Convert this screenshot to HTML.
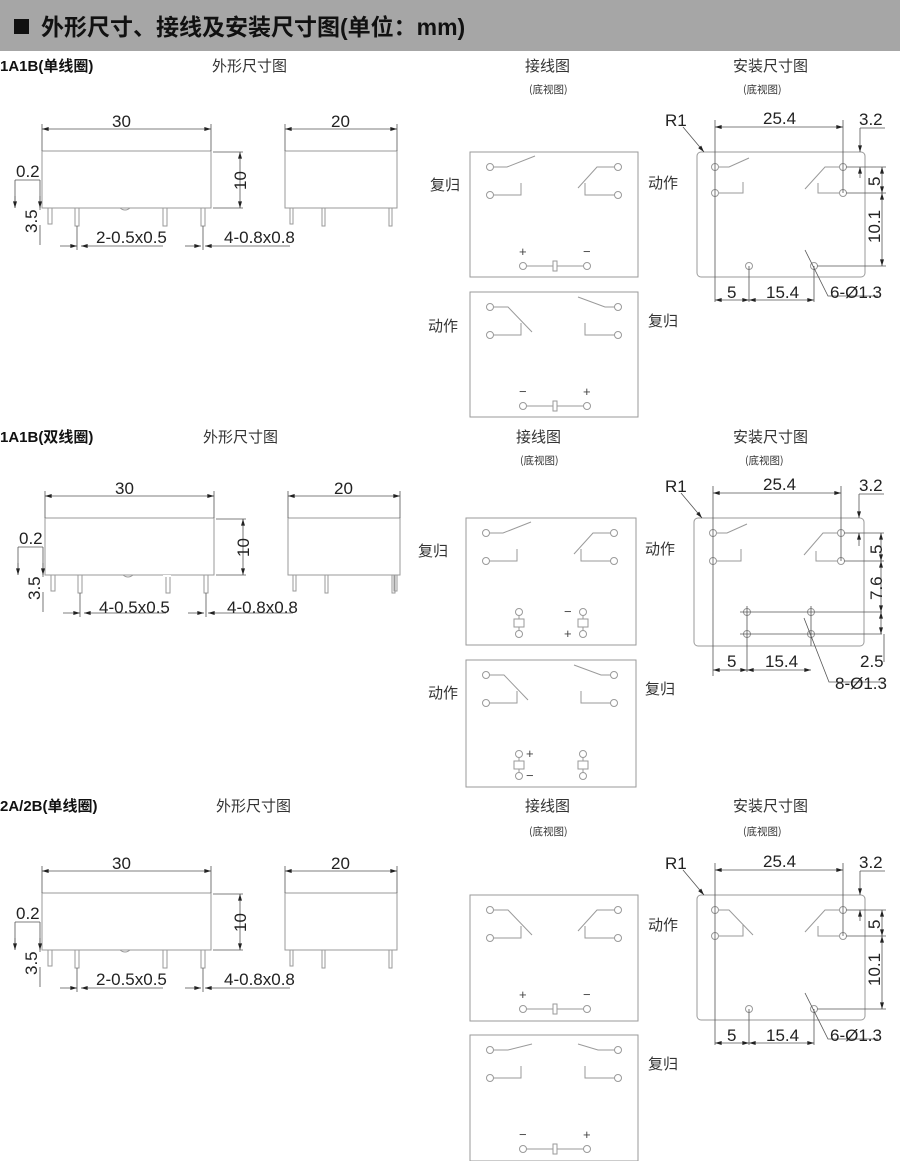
<!DOCTYPE html>
<html><head><meta charset="utf-8"><style>
html,body{margin:0;padding:0;background:#fff;width:900px;height:1161px;overflow:hidden}
svg{display:block}
text{font-family:"Liberation Sans","Noto Sans CJK SC",sans-serif;fill:#222}
.t{font-size:17px}
.cj{font-size:15px;font-family:"Noto Sans CJK SC","WenQuanYi Zen Hei",sans-serif;fill:#333}
.sm{font-size:10.5px;font-family:"Noto Sans CJK SC",sans-serif;fill:#333}
.b{font-size:15px;font-weight:bold;fill:#111}
.g{stroke:#9a9a9a;stroke-width:1;fill:none}
.d{stroke:#555;stroke-width:0.8;fill:none}
.c{stroke:#9a9a9a;stroke-width:1;fill:#fff}
</style></head><body>
<svg width="900" height="1161" viewBox="0 0 900 1161" xmlns="http://www.w3.org/2000/svg">
<defs>
<marker id="a" viewBox="0 0 10 6" refX="10" refY="3" markerWidth="9" markerHeight="4" orient="auto-start-reverse" markerUnits="userSpaceOnUse"><path d="M0,0L10,3L0,6z" fill="#222"/></marker>

<g id="front">
<rect x="42" y="151" width="169" height="57" class="g"/>
<path class="g" d="M48,208v16h4v-16M75,208v18h4v-18M163,208v18h4v-18M201,208v18h4v-18M120,208q5,4 10,0"/>
<path class="d" d="M42,151v-27M211,151v-27"/>
<line x1="42" y1="129" x2="211" y2="129" class="d" marker-start="url(#a)" marker-end="url(#a)"/>
<path class="d" d="M213,152h30M213,208h30"/>
<line x1="240" y1="152" x2="240" y2="208" class="d" marker-start="url(#a)" marker-end="url(#a)"/>
<path class="d" d="M15,180v27M40,180v30M40,225v20M15,180h25"/>
<line x1="15" y1="196" x2="15" y2="208" class="d" marker-end="url(#a)"/>
<line x1="40" y1="196" x2="40" y2="208" class="d" marker-end="url(#a)"/>
<path class="d" d="M77,226v24M203,226v24"/>
<line x1="60" y1="246" x2="77" y2="246" class="d" marker-end="url(#a)"/>
<line x1="98" y1="246" x2="81" y2="246" class="d" marker-end="url(#a)"/>
<line x1="185" y1="246" x2="201" y2="246" class="d" marker-end="url(#a)"/>
<line x1="225" y1="246" x2="205" y2="246" class="d" marker-end="url(#a)"/>
<path class="d" d="M98,246h65M225,246h65"/>
<rect x="285" y="151" width="112" height="57" class="g"/>
<path class="g" d="M290,208v16h3v-16M322,208v18h3v-18M389,208v18h3v-18"/>
<path class="d" d="M285,151v-27M397,151v-27"/>
<line x1="285" y1="129" x2="397" y2="129" class="d" marker-start="url(#a)" marker-end="url(#a)"/>
</g>

<g id="lopen"><path class="g" d="M23,15h14l28,-11M23,43h28v-12"/></g>
<g id="lclosed"><path class="g" d="M23,15h15l24,25M23,43h28v-12"/></g>
<g id="ropen"><path class="g" d="M145,15h-10l-27,-10M145,43h-30v-12"/></g>
<g id="rclosed"><path class="g" d="M145,15h-18l-19,21M145,43h-30v-12"/></g>
<g id="circ4"><circle cx="20" cy="15" r="3.5" class="c"/><circle cx="20" cy="43" r="3.5" class="c"/><circle cx="148" cy="15" r="3.5" class="c"/><circle cx="148" cy="43" r="3.5" class="c"/></g>
<g id="coilh"><path class="g" d="M56,114h27M87,114h27"/><rect x="83" y="109" width="4" height="10" class="g"/><circle cx="53" cy="114" r="3.5" class="c"/><circle cx="117" cy="114" r="3.5" class="c"/></g>

<g id="mdims">
<path class="d" d="M18,-32v182M146,-32v73M52,114v36M117,114v36M149,15h40M149,41h40M120,114h69M163,-24h25"/>
<line x1="18" y1="-25" x2="146" y2="-25" class="d" marker-start="url(#a)" marker-end="url(#a)"/>
<line x1="163" y1="-24" x2="163" y2="0" class="d" marker-end="url(#a)"/>
<line x1="163" y1="26" x2="163" y2="15" class="d" marker-end="url(#a)"/>
<line x1="185" y1="15" x2="185" y2="41" class="d" marker-start="url(#a)" marker-end="url(#a)"/>
<line x1="185" y1="41" x2="185" y2="114" class="d" marker-start="url(#a)" marker-end="url(#a)"/>
<line x1="18" y1="148" x2="52" y2="148" class="d" marker-start="url(#a)" marker-end="url(#a)"/>
<line x1="52" y1="148" x2="117" y2="148" class="d" marker-start="url(#a)" marker-end="url(#a)"/>
<path class="d" d="M108,98l23,46h50"/>
<line x1="-14" y1="-25" x2="7" y2="0" class="d" marker-end="url(#a)"/>
</g>
<g id="mbase">
<rect x="0" y="0" width="168" height="125" rx="4" class="g"/>
<circle cx="18" cy="15" r="3.5" class="c"/><circle cx="18" cy="41" r="3.5" class="c"/><circle cx="146" cy="15" r="3.5" class="c"/><circle cx="146" cy="41" r="3.5" class="c"/>
</g>
</defs>

<rect x="0" y="0" width="900" height="51" fill="#a6a6a6"/>
<rect x="14" y="19" width="15" height="15" fill="#111"/>
<text x="41" y="35" style="font-size:23px;font-weight:bold;fill:#111">外形尺寸、接线及安装尺寸图(单位：mm)</text>

<!-- ===== Section 1 ===== -->
<text x="0" y="71" class="b">1A1B(单线圈)</text>
<text x="212" y="71" class="cj">外形尺寸图</text>
<text x="525" y="71" class="cj">接线图</text>
<text x="529" y="93" class="sm">(底视图)</text>
<text x="733" y="71" class="cj">安装尺寸图</text>
<text x="743" y="93" class="sm">(底视图)</text>
<use href="#front"/>
<text x="112" y="127" class="t">30</text><text x="331" y="127" class="t">20</text>
<text x="16" y="177" class="t">0.2</text>
<text transform="translate(246,190) rotate(-90)" class="t">10</text>
<text transform="translate(37,233) rotate(-90)" class="t">3.5</text>
<text x="96" y="243" class="t">2-0.5x0.5</text><text x="224" y="243" class="t">4-0.8x0.8</text>

<g transform="translate(470,152)"><rect x="0" y="0" width="168" height="125" class="g"/><use href="#lopen"/><use href="#rclosed"/><use href="#circ4"/><use href="#coilh"/>
<text x="49" y="104" style="font-size:13px;fill:#444">+</text><text x="113" y="104" style="font-size:13px;fill:#444">−</text></g>
<g transform="translate(470,292)"><rect x="0" y="0" width="168" height="125" class="g"/><use href="#lclosed"/><use href="#ropen"/><use href="#circ4"/><use href="#coilh"/>
<text x="49" y="104" style="font-size:13px;fill:#444">−</text><text x="113" y="104" style="font-size:13px;fill:#444">+</text></g>
<text x="430" y="190" class="cj">复归</text><text x="648" y="188" class="cj">动作</text>
<text x="428" y="331" class="cj">动作</text><text x="648" y="326" class="cj">复归</text>

<g transform="translate(697,152)"><use href="#mbase"/><path class="g" d="M21,15h11l20,-9M21,41h25v-11M143,15h-15l-20,22M143,41h-22v-10"/>
<circle cx="52" cy="114" r="3.5" class="c"/><circle cx="117" cy="114" r="3.5" class="c"/><use href="#mdims"/></g>
<text x="665" y="126" class="t">R1</text><text x="763" y="124" class="t">25.4</text><text x="859" y="125" class="t">3.2</text>
<text transform="translate(880,186) rotate(-90)" class="t">5</text>
<text transform="translate(880,243) rotate(-90)" class="t">10.1</text>
<text x="727" y="298" class="t">5</text><text x="766" y="298" class="t">15.4</text><text x="830" y="298" class="t">6-Ø1.3</text>

<!-- ===== Section 2 ===== -->
<text x="0" y="442" class="b">1A1B(双线圈)</text>
<text x="203" y="442" class="cj">外形尺寸图</text>
<text x="516" y="442" class="cj">接线图</text>
<text x="520" y="464" class="sm">(底视图)</text>
<text x="733" y="442" class="cj">安装尺寸图</text>
<text x="745" y="464" class="sm">(底视图)</text>
<use href="#front" transform="translate(3,367)"/>
<path class="g" d="M394,575v16h3v-16"/>
<rect x="163" y="575" width="8" height="2" fill="#fff"/>
<text x="115" y="494" class="t">30</text><text x="334" y="494" class="t">20</text>
<text x="19" y="544" class="t">0.2</text>
<text transform="translate(249,557) rotate(-90)" class="t">10</text>
<text transform="translate(40,600) rotate(-90)" class="t">3.5</text>
<text x="99" y="613" class="t">4-0.5x0.5</text><text x="227" y="613" class="t">4-0.8x0.8</text>

<g transform="translate(466,518)"><rect x="0" y="0" width="170" height="127" class="g"/><use href="#lopen"/><use href="#rclosed"/><use href="#circ4"/>
<g transform="translate(53,0)"><circle cx="0" cy="94" r="3.5" class="c"/><circle cx="0" cy="116" r="3.5" class="c"/><path class="g" d="M0,97.5v3M0,109v3.5"/><rect x="-5" y="101" width="10" height="8" class="g"/></g>
<g transform="translate(117,0)"><circle cx="0" cy="94" r="3.5" class="c"/><circle cx="0" cy="116" r="3.5" class="c"/><path class="g" d="M0,97.5v3M0,109v3.5"/><rect x="-5" y="101" width="10" height="8" class="g"/></g>
<text x="98" y="98" style="font-size:13px;fill:#444">−</text><text x="98" y="120" style="font-size:13px;fill:#444">+</text></g>
<g transform="translate(466,660)"><rect x="0" y="0" width="170" height="127" class="g"/><use href="#lclosed"/><use href="#ropen"/><use href="#circ4"/>
<g transform="translate(53,0)"><circle cx="0" cy="94" r="3.5" class="c"/><circle cx="0" cy="116" r="3.5" class="c"/><path class="g" d="M0,97.5v3M0,109v3.5"/><rect x="-5" y="101" width="10" height="8" class="g"/></g>
<g transform="translate(117,0)"><circle cx="0" cy="94" r="3.5" class="c"/><circle cx="0" cy="116" r="3.5" class="c"/><path class="g" d="M0,97.5v3M0,109v3.5"/><rect x="-5" y="101" width="10" height="8" class="g"/></g>
<text x="60" y="98" style="font-size:13px;fill:#444">+</text><text x="60" y="120" style="font-size:13px;fill:#444">−</text></g>
<text x="418" y="556" class="cj">复归</text><text x="645" y="554" class="cj">动作</text>
<text x="428" y="698" class="cj">动作</text><text x="645" y="694" class="cj">复归</text>

<g transform="translate(694,518)"><rect x="0" y="0" width="170" height="128" rx="4" class="g"/>
<circle cx="19" cy="15" r="3.5" class="c"/><circle cx="19" cy="43" r="3.5" class="c"/><circle cx="147" cy="15" r="3.5" class="c"/><circle cx="147" cy="43" r="3.5" class="c"/>
<path class="g" d="M22,15h11l20,-9M22,43h25v-12M144,15h-15l-19,22M144,43h-22v-10"/>
<circle cx="53" cy="94" r="3.5" class="c"/><circle cx="53" cy="116" r="3.5" class="c"/><circle cx="117" cy="94" r="3.5" class="c"/><circle cx="117" cy="116" r="3.5" class="c"/>
<path class="d" d="M19,-32v190M147,-32v75M53,88v66M117,88v40M46,94h142M46,116h142M150,15h40M150,43h40M165,-24h25M190,116v28"/>
<line x1="19" y1="-25" x2="147" y2="-25" class="d" marker-start="url(#a)" marker-end="url(#a)"/>
<line x1="165" y1="-24" x2="165" y2="0" class="d" marker-end="url(#a)"/>
<line x1="165" y1="28" x2="165" y2="15" class="d" marker-end="url(#a)"/>
<line x1="187" y1="15" x2="187" y2="43" class="d" marker-start="url(#a)" marker-end="url(#a)"/>
<line x1="187" y1="43" x2="187" y2="94" class="d" marker-start="url(#a)" marker-end="url(#a)"/>
<line x1="187" y1="94" x2="187" y2="116" class="d" marker-start="url(#a)" marker-end="url(#a)"/>
<line x1="19" y1="152" x2="53" y2="152" class="d" marker-start="url(#a)" marker-end="url(#a)"/>
<line x1="53" y1="152" x2="117" y2="152" class="d" marker-start="url(#a)" marker-end="url(#a)"/>
<path class="d" d="M110,100l25,64h55"/>
<line x1="-13" y1="-25" x2="8" y2="0" class="d" marker-end="url(#a)"/>
</g>
<text x="665" y="492" class="t">R1</text><text x="763" y="490" class="t">25.4</text><text x="859" y="491" class="t">3.2</text>
<text transform="translate(882,554) rotate(-90)" class="t">5</text>
<text transform="translate(882,600) rotate(-90)" class="t">7.6</text>
<text x="727" y="667" class="t">5</text><text x="765" y="667" class="t">15.4</text>
<text x="860" y="667" class="t">2.5</text><text x="835" y="689" class="t">8-Ø1.3</text>

<!-- ===== Section 3 ===== -->
<text x="0" y="811" class="b">2A/2B(单线圈)</text>
<text x="216" y="811" class="cj">外形尺寸图</text>
<text x="525" y="811" class="cj">接线图</text>
<text x="529" y="835" class="sm">(底视图)</text>
<text x="733" y="811" class="cj">安装尺寸图</text>
<text x="743" y="835" class="sm">(底视图)</text>
<use href="#front" transform="translate(0,742)"/>
<text x="112" y="869" class="t">30</text><text x="331" y="869" class="t">20</text>
<text x="16" y="919" class="t">0.2</text>
<text transform="translate(246,932) rotate(-90)" class="t">10</text>
<text transform="translate(37,975) rotate(-90)" class="t">3.5</text>
<text x="96" y="985" class="t">2-0.5x0.5</text><text x="224" y="985" class="t">4-0.8x0.8</text>

<g transform="translate(470,895)"><rect x="0" y="0" width="168" height="126" class="g"/><use href="#lclosed"/><use href="#rclosed"/><use href="#circ4"/><use href="#coilh"/>
<text x="49" y="104" style="font-size:13px;fill:#444">+</text><text x="113" y="104" style="font-size:13px;fill:#444">−</text></g>
<g transform="translate(470,1035)"><rect x="0" y="0" width="168" height="126" class="g"/><path class="g" d="M23,15h15l24,-6M23,43h28v-12M145,15h-17l-20,-6M145,43h-30v-12"/><use href="#circ4"/><use href="#coilh"/>
<text x="49" y="104" style="font-size:13px;fill:#444">−</text><text x="113" y="104" style="font-size:13px;fill:#444">+</text></g>
<text x="648" y="930" class="cj">动作</text>
<text x="648" y="1069" class="cj">复归</text>

<g transform="translate(697,895)"><use href="#mbase"/><path class="g" d="M21,15h11l24,25M21,41h25v-11M143,15h-15l-20,22M143,41h-22v-10"/>
<circle cx="52" cy="114" r="3.5" class="c"/><circle cx="117" cy="114" r="3.5" class="c"/><use href="#mdims"/></g>
<text x="665" y="869" class="t">R1</text><text x="763" y="867" class="t">25.4</text><text x="859" y="868" class="t">3.2</text>
<text transform="translate(880,929) rotate(-90)" class="t">5</text>
<text transform="translate(880,986) rotate(-90)" class="t">10.1</text>
<text x="727" y="1041" class="t">5</text><text x="766" y="1041" class="t">15.4</text><text x="830" y="1041" class="t">6-Ø1.3</text>
</svg>
</body></html>
